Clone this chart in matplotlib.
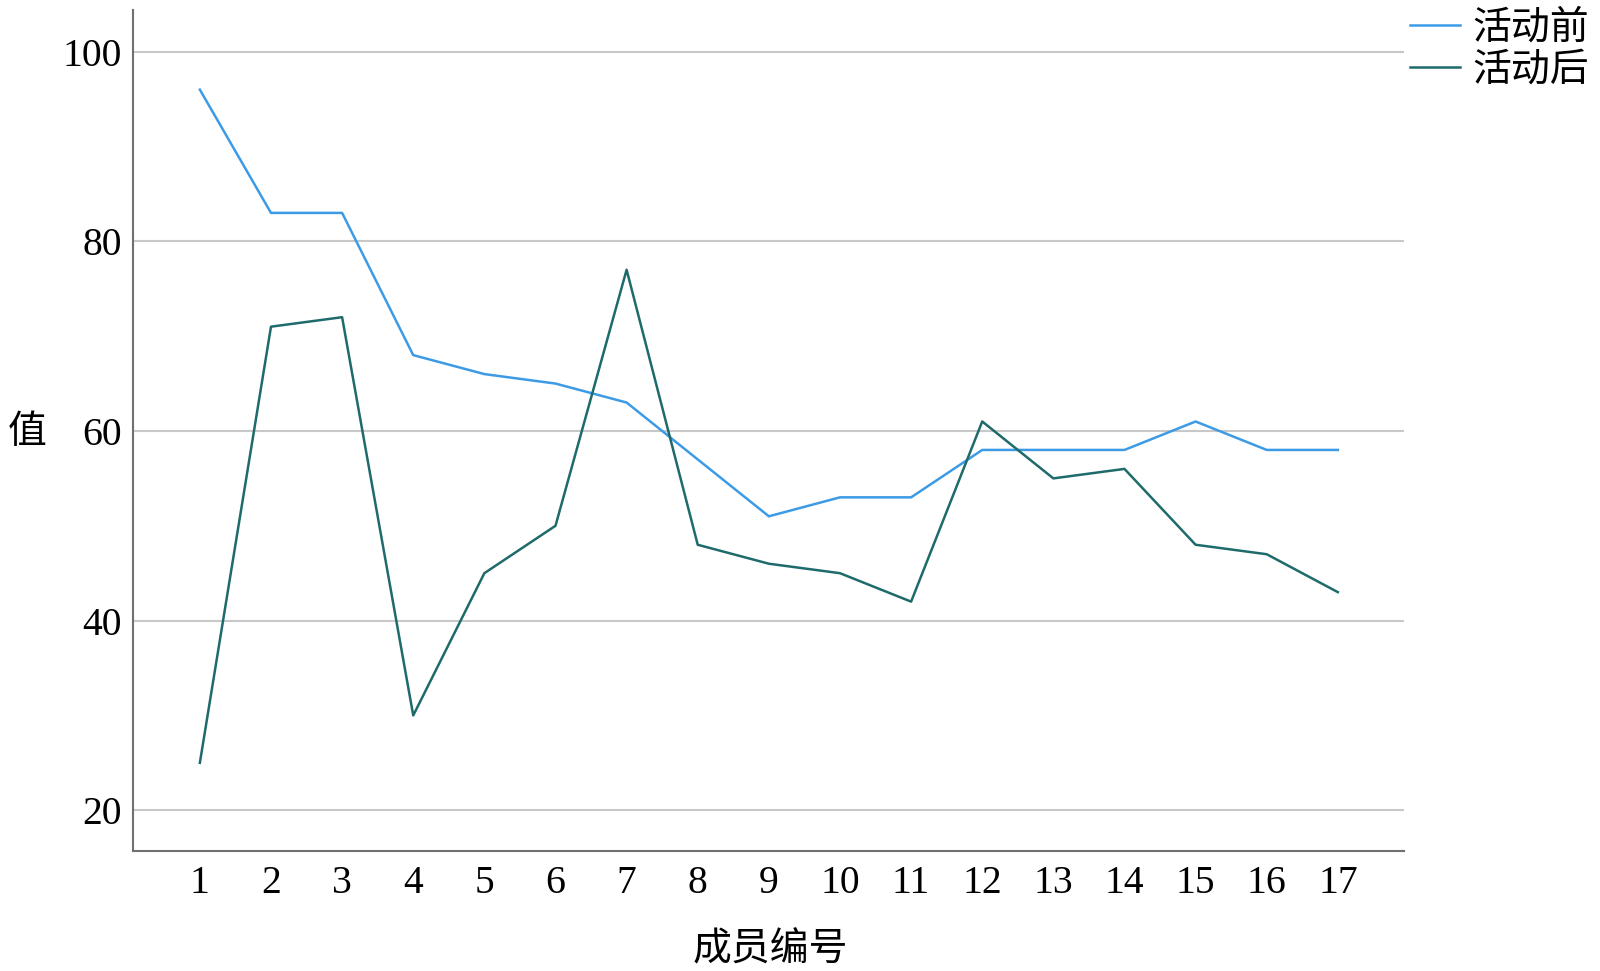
import matplotlib
matplotlib.use("Agg")
import matplotlib.pyplot as plt

members = list(range(1, 18))
before = [96, 83, 83, 68, 66, 65, 63, 57, 51, 53, 53, 58, 58, 58, 61, 58, 58]
after = [25, 71, 72, 30, 45, 50, 77, 48, 46, 45, 42, 61, 55, 56, 48, 47, 43]
yticks = [20, 40, 60, 80, 100]

cjk = ['Noto Sans CJK SC', 'DejaVu Sans']
serif = ['Liberation Serif', 'DejaVu Serif']

fig = plt.figure(figsize=(16, 9.71), dpi=100)
ax = fig.add_axes([133/1600, 1 - 851/971, (1404-133)/1600, (851-10)/971])

ax.plot(members, before, color='#3d9be6', lw=1.8, label='活动前')
ax.plot(members, after, color='#1f6b6b', lw=1.8, label='活动后')

ax.set_xlim(0.06, 17.93)
ax.set_ylim(15.7, 104.4)
ax.set_xticks(members)
ax.set_xticklabels([str(m) for m in members], family=serif, fontsize=28.5)
ax.set_yticks(yticks)
ax.set_yticklabels([str(v) for v in yticks], family=serif, fontsize=28.5)
ax.tick_params(length=0)
ax.tick_params(axis='y', pad=8)
ax.tick_params(axis='x', pad=10)
ax.grid(axis='y', color='#c8c8c8', lw=1.5)
ax.set_axisbelow(True)
for s in ['top', 'right']:
    ax.spines[s].set_visible(False)
for s in ['left', 'bottom']:
    ax.spines[s].set_color('#707070')
    ax.spines[s].set_linewidth(1.5)

fig.text(27/1600, 1 - 432/971, '值', family=cjk, fontsize=28, ha='center', va='center')
fig.text(770/1600, 1 - 949/971, '成员编号', family=cjk, fontsize=28, ha='center', va='center')

leg = fig.legend(loc='upper right', bbox_to_anchor=(0.9965, 0.998), frameon=False,
                 prop={'family': cjk, 'size': 28}, handlelength=1.3,
                 handletextpad=0.3, labelspacing=0.05, borderaxespad=0.0,
                 borderpad=0.15)

fig.savefig('out.png', dpi=100)
